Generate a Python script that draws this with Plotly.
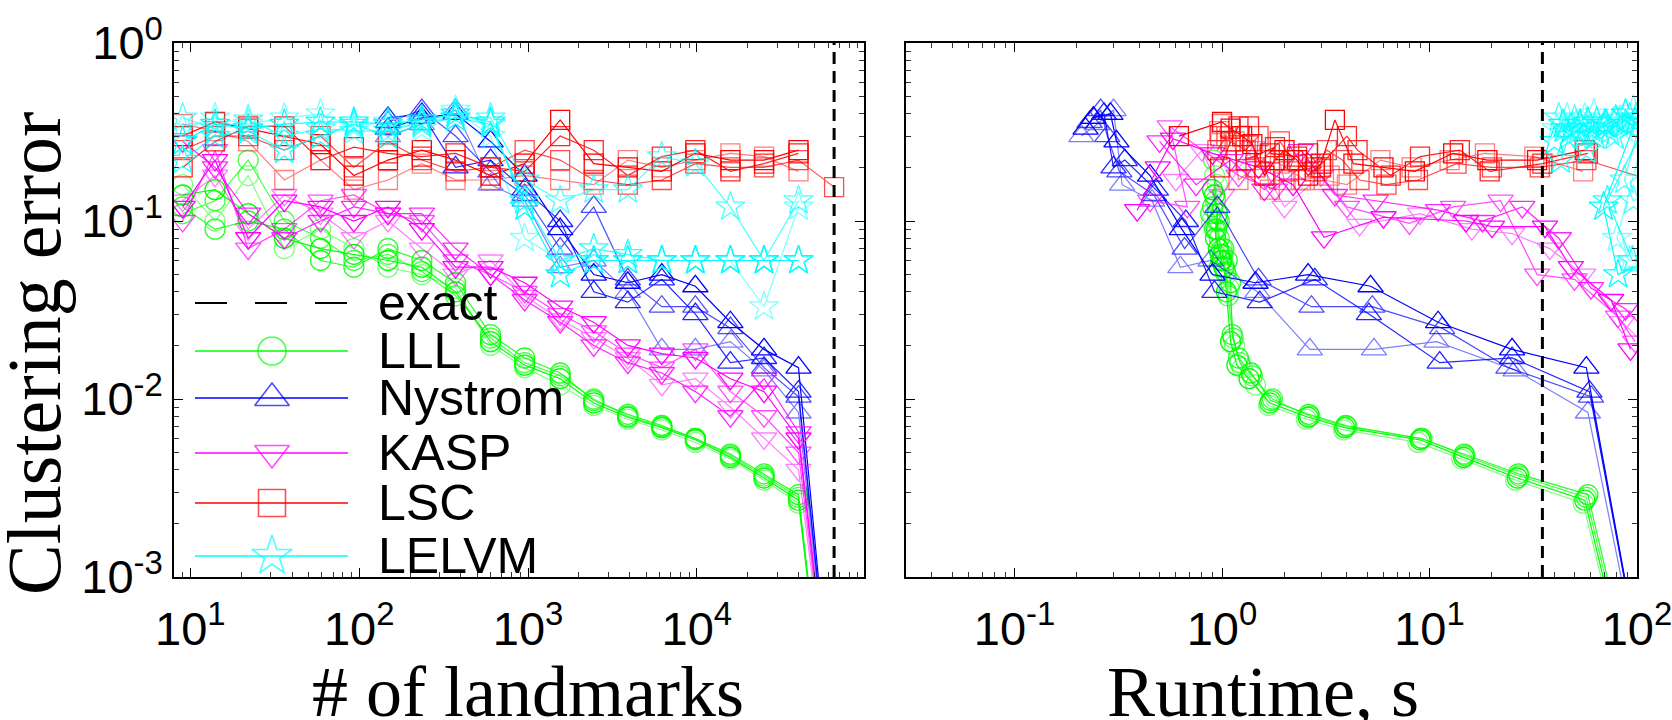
import plotly.graph_objects as go

# ---------------- data ----------------
landmarks = [9, 14, 22, 36, 59, 93, 148, 235, 372, 600, 955, 1550, 2450,
             3900, 6200, 9800, 15800, 25000, 40000, 65000]
exact_landmarks = 65000
exact_runtime = 35
err_span = [1e-3, 1]

methods = ["LLL", "Nystrom", "KASP", "LSC", "LELVM"]

# LLL: 19 landmark settings + final point (L = N, error below axis floor)
lll_final_L = 60000
lll_err = [
    [0.14, 0.15, 0.11, 0.08, 0.07, 0.065, 0.06, 0.055, 0.04, 0.021, 0.0155, 0.013, 0.0095, 0.0079, 0.0069, 0.0059, 0.0047, 0.0036, 0.0027, 1e-4],
    [0.11, 0.13, 0.22, 0.10, 0.08, 0.06, 0.065, 0.052, 0.038, 0.022, 0.016, 0.0135, 0.010, 0.008, 0.007, 0.006, 0.0048, 0.0037, 0.0028, 1e-4],
    [0.16, 0.10, 0.18, 0.07, 0.09, 0.07, 0.055, 0.05, 0.042, 0.020, 0.015, 0.012, 0.0092, 0.0077, 0.0067, 0.0057, 0.0046, 0.0035, 0.0026, 1e-4],
    [0.12, 0.09, 0.10, 0.09, 0.06, 0.055, 0.07, 0.06, 0.045, 0.023, 0.017, 0.014, 0.0098, 0.0082, 0.0071, 0.006, 0.0049, 0.0038, 0.0029, 1e-4],
]
lll_time = [
    [0.92, 0.90, 0.95, 0.93, 0.96, 0.98, 1.00, 1.02, 1.05, 1.10, 1.18, 1.35, 1.70, 2.6, 3.9, 9.0, 14.6, 26.5, 56, 110],
    [0.88, 0.93, 0.91, 0.95, 0.97, 0.99, 1.01, 1.04, 1.07, 1.13, 1.22, 1.40, 1.75, 2.65, 4.0, 9.2, 14.8, 27, 57, 112],
    [0.95, 0.89, 0.92, 0.96, 0.94, 1.00, 1.03, 1.05, 1.08, 1.15, 1.25, 1.45, 1.68, 2.55, 3.85, 8.8, 14.3, 26, 55, 108],
    [0.90, 0.94, 0.97, 0.92, 0.99, 0.97, 1.02, 1.06, 1.10, 1.12, 1.20, 1.38, 1.72, 2.62, 3.95, 9.1, 14.7, 26.8, 58, 114],
]

# Nystrom: landmark settings 7..19 + final point
nys_first = 6
nys_final_L = 66000
nys_err = [
    [0.33, 0.38, 0.40, 0.28, 0.18, 0.09, 0.05, 0.045, 0.05, 0.043, 0.027, 0.019, 0.015, 1e-4],
    [0.36, 0.42, 0.30, 0.19, 0.14, 0.07, 0.12, 0.047, 0.033, 0.033, 0.025, 0.015, 0.0103, 1e-4],
    [0.30, 0.35, 0.42, 0.16, 0.13, 0.055, 0.06, 0.04, 0.019, 0.019, 0.021, 0.0145, 0.0084, 1e-4],
    [0.38, 0.40, 0.20, 0.22, 0.15, 0.10, 0.04, 0.035, 0.047, 0.03, 0.016, 0.017, 0.011, 1e-4],
]
nys_time = [
    [0.22, 0.24, 0.29, 0.31, 0.45, 0.64, 0.90, 1.45, 2.6, 5.2, 11, 25, 57, 125],
    [0.23, 0.26, 0.28, 0.32, 0.47, 0.66, 0.95, 1.5, 2.7, 5.3, 11.5, 24, 60, 125],
    [0.21, 0.25, 0.30, 0.33, 0.46, 0.63, 0.88, 1.48, 2.65, 5.4, 10.8, 26, 58, 125],
    [0.24, 0.27, 0.30, 0.34, 0.48, 0.67, 0.92, 1.52, 2.8, 5.1, 11.2, 25, 59, 125],
]

# KASP
kasp_final_L = 66000
kasp_err = [
    [0.12, 0.22, 0.08, 0.13, 0.12, 0.10, 0.12, 0.09, 0.055, 0.055, 0.045, 0.033, 0.027, 0.02, 0.018, 0.017, 0.013, 0.011, 0.006, 1e-4],
    [0.10, 0.25, 0.07, 0.09, 0.13, 0.14, 0.11, 0.10, 0.06, 0.05, 0.04, 0.03, 0.024, 0.018, 0.015, 0.019, 0.011, 0.008, 0.005, 1e-4],
    [0.13, 0.18, 0.09, 0.14, 0.11, 0.08, 0.10, 0.07, 0.05, 0.06, 0.038, 0.028, 0.022, 0.017, 0.012, 0.013, 0.009, 0.006, 0.004, 1e-4],
    [0.28, 0.20, 0.11, 0.08, 0.10, 0.12, 0.11, 0.11, 0.07, 0.05, 0.036, 0.027, 0.02, 0.016, 0.014, 0.011, 0.008, 0.013, 0.0065, 1e-4],
]
kasp_rt_time = [
    [0.39, 0.49, 0.58, 0.9, 1.5, 2.2, 3.1, 6, 15, 20, 36, 48, 75, 93],
    [0.45, 0.68, 0.56, 1.2, 1.8, 2.6, 4.0, 8, 13, 22, 33, 50, 81, 98],
    [0.6, 0.8, 1.0, 1.4, 2.0, 3.0, 4.6, 9, 16, 25, 38, 55, 85, 120],
    [0.5, 0.75, 1.1, 1.6, 2.4, 3.5, 5.5, 11, 18, 28, 42, 60, 88, 130],
]
kasp_rt_err = [
    [0.115, 0.2, 0.29, 0.24, 0.2, 0.16, 0.081, 0.105, 0.10, 0.093, 0.093, 0.055, 0.036, 0.019],
    [0.13, 0.12, 0.34, 0.18, 0.15, 0.22, 0.12, 0.097, 0.12, 0.13, 0.05, 0.047, 0.029, 0.021],
    [0.17, 0.25, 0.14, 0.26, 0.12, 0.18, 0.095, 0.11, 0.09, 0.085, 0.07, 0.05, 0.027, 0.018],
    [0.28, 0.16, 0.22, 0.15, 0.25, 0.14, 0.13, 0.115, 0.10, 0.12, 0.08, 0.042, 0.032, 0.02],
]

# LSC
lsc_err = [
    [0.30, 0.36, 0.33, 0.30, 0.27, 0.18, 0.22, 0.25, 0.22, 0.18, 0.21, 0.37, 0.21, 0.20, 0.19, 0.24, 0.22, 0.22, 0.25],
    [0.25, 0.30, 0.30, 0.25, 0.30, 0.20, 0.28, 0.22, 0.19, 0.20, 0.25, 0.22, 0.17, 0.16, 0.17, 0.21, 0.20, 0.20, 0.22, 0.155],
    [0.35, 0.32, 0.28, 0.17, 0.22, 0.15, 0.17, 0.21, 0.17, 0.17, 0.18, 0.17, 0.16, 0.22, 0.20, 0.22, 0.24, 0.23, 0.19],
    [0.20, 0.28, 0.34, 0.34, 0.22, 0.26, 0.24, 0.23, 0.24, 0.20, 0.19, 0.30, 0.25, 0.18, 0.23, 0.25, 0.19, 0.21, 0.24],
]
lsc_time = [
    [0.62, 1.0, 1.1, 1.25, 1.4, 1.6, 1.8, 2.0, 2.3, 2.6, 3.0, 3.5, 4.3, 6.0, 8.5, 13, 19, 33, 56],
    [0.95, 1.05, 0.98, 1.3, 1.5, 1.45, 1.9, 2.2, 2.1, 2.8, 3.2, 3.8, 4.6, 6.2, 8.8, 13.5, 20, 34, 57, 150],
    [1.0, 0.97, 1.15, 1.2, 1.6, 1.7, 2.0, 1.9, 2.5, 2.4, 3.3, 3.1, 4.0, 5.8, 8.2, 12.5, 18.5, 32, 55],
    [0.98, 1.1, 1.2, 1.35, 1.3, 1.8, 1.7, 2.3, 2.6, 3.0, 2.8, 4.0, 4.5, 6.5, 9.0, 14, 19.5, 35, 58],
]

# LELVM
lelvm_err = [
    [0.28, 0.35, 0.33, 0.35, 0.36, 0.36, 0.35, 0.37, 0.40, 0.36, 0.12, 0.05, 0.06, 0.06, 0.06, 0.06, 0.06, 0.06, 0.06],
    [0.38, 0.33, 0.37, 0.30, 0.33, 0.32, 0.32, 0.36, 0.38, 0.38, 0.17, 0.13, 0.15, 0.15, 0.23, 0.21, 0.12, 0.06, 0.13],
    [0.33, 0.38, 0.35, 0.38, 0.40, 0.34, 0.36, 0.33, 0.42, 0.30, 0.08, 0.06, 0.06, 0.06, 0.06, 0.06, 0.06, 0.033, 0.12],
    [0.22, 0.30, 0.32, 0.25, 0.30, 0.35, 0.30, 0.35, 0.38, 0.35, 0.13, 0.06, 0.07, 0.065, 0.06, 0.06, 0.06, 0.06, 0.06],
]
lelvm_time = [
    [40, 44, 48, 53, 58, 64, 71, 79, 88, 98, 69, 81, 115],
    [42, 45, 50, 55, 60, 66, 74, 82, 92, 105, 87, 96, 130],
    [41, 46, 51, 56, 62, 69, 77, 86, 96, 108, 80, 92, 125],
    [43, 47, 52, 57, 63, 70, 78, 88, 99, 110, 72, 95, 135],
]

x_tick_vals_L = [10, 100, 1000, 10000]
x_tick_text_L = ["10<sup>1</sup>", "10<sup>2</sup>", "10<sup>3</sup>", "10<sup>4</sup>"]
x_tick_vals_R = [0.1, 1, 10, 100]
x_tick_text_R = ["10<sup>-1</sup>", "10<sup>0</sup>", "10<sup>1</sup>", "10<sup>2</sup>"]
y_tick_vals = [1e-3, 1e-2, 1e-1, 1]
y_tick_text = ["10<sup>-3</sup>", "10<sup>-2</sup>", "10<sup>-1</sup>", "10<sup>0</sup>"]

# ---------------- styles ----------------
colors = {"LLL": "#00ff00", "Nystrom": "#0000ff", "KASP": "#ff00ff",
          "LSC": "#ff0000", "LELVM": "#00ffff"}
symbols = {"LLL": "circle-open", "Nystrom": "triangle-up-open",
           "KASP": "triangle-down-open", "LSC": "square-open", "LELVM": "star-open"}
sizes = {"LLL": 20, "Nystrom": 22, "KASP": 22, "LSC": 19, "LELVM": 22}
run_opacity = [1.0, 0.7, 0.5, 0.85]

fig = go.Figure()


def add_run(x, y, m, i, xa, ya):
    fig.add_trace(go.Scatter(
        x=x, y=y, mode="lines+markers", xaxis=xa, yaxis=ya,
        line=dict(color=colors[m], width=1.2),
        marker=dict(symbol=symbols[m], size=sizes[m], color=colors[m],
                    line=dict(width=1.3, color=colors[m])),
        opacity=run_opacity[i], showlegend=False, hoverinfo="skip"))


# left panel: error vs landmarks
for i in range(4):
    add_run(landmarks[:19] + [lll_final_L], lll_err[i], "LLL", i, "x", "y")
for i in range(4):
    add_run(landmarks[nys_first:19] + [nys_final_L], nys_err[i], "Nystrom", i, "x", "y")
for i in range(4):
    add_run(landmarks[:19] + [kasp_final_L], kasp_err[i], "KASP", i, "x", "y")
for i in range(4):
    add_run(landmarks[:len(lsc_err[i])], lsc_err[i], "LSC", i, "x", "y")
for i in range(4):
    add_run(landmarks[:len(lelvm_err[i])], lelvm_err[i], "LELVM", i, "x", "y")

# right panel: error vs runtime
for i in range(4):
    add_run(lll_time[i], lll_err[i], "LLL", i, "x2", "y2")
for i in range(4):
    add_run(nys_time[i], nys_err[i], "Nystrom", i, "x2", "y2")
for i in range(4):
    add_run(kasp_rt_time[i], kasp_rt_err[i], "KASP", i, "x2", "y2")
for i in range(4):
    add_run(lsc_time[i], lsc_err[i], "LSC", i, "x2", "y2")
for i in range(4):
    add_run(lelvm_time[i], lelvm_err[i][:len(lelvm_time[i])], "LELVM", i, "x2", "y2")

# exact reference lines
fig.add_trace(go.Scatter(x=[exact_landmarks, exact_landmarks], y=err_span, mode="lines",
                         xaxis="x", yaxis="y", line=dict(color="black", width=3, dash="12px,7px"),
                         showlegend=False, hoverinfo="skip"))
fig.add_trace(go.Scatter(x=[exact_runtime, exact_runtime], y=err_span, mode="lines",
                         xaxis="x2", yaxis="y2", line=dict(color="black", width=3, dash="12px,7px"),
                         showlegend=False, hoverinfo="skip"))

# ---------------- manual legend (overlay axes x3/y3, unit coordinates) ----------------
W, H = 1672, 720
PL, PR, PT, PB = 174, 864, 43, 577
leg_x0, leg_x1, leg_xm, leg_text_x = 195, 348, 272, 376
leg_rows_px = [303, 351, 398, 453, 503, 556]


def ux(px):
    return (px - PL) / (PR - PL)


def uy(py):
    return (PB - py) / (PB - PT)


fig.add_trace(go.Scatter(x=[ux(leg_x0), ux(leg_x1)], y=[uy(leg_rows_px[0])] * 2, mode="lines",
                         xaxis="x3", yaxis="y3", line=dict(color="black", width=2, dash="32px,28px"),
                         showlegend=False, hoverinfo="skip"))
for k, m in enumerate(methods):
    yy = uy(leg_rows_px[k + 1])
    fig.add_trace(go.Scatter(
        x=[ux(leg_x0), ux(leg_xm), ux(leg_x1)], y=[yy, yy, yy], mode="lines+markers",
        xaxis="x3", yaxis="y3", line=dict(color=colors[m], width=1.5),
        marker=dict(symbol=symbols[m], size=[0, sizes[m] + 8, 0], color=colors[m],
                    line=dict(width=1.6, color=colors[m])),
        showlegend=False, hoverinfo="skip"))

annotations = []
for k, name in enumerate(["exact"] + methods):
    annotations.append(dict(x=leg_text_x / W, y=1 - leg_rows_px[k] / H, xref="paper", yref="paper",
                            text=name, showarrow=False, xanchor="left", yanchor="middle",
                            font=dict(family="Liberation Sans, Arial", size=50, color="black")))

serif = "Liberation Serif, Times New Roman, serif"
annotations.append(dict(x=34 / W, y=1 - 354 / H, xref="paper", yref="paper", text="Clustering error",
                        textangle=-90, showarrow=False, xanchor="center", yanchor="middle",
                        font=dict(family=serif, size=76, color="black")))
annotations.append(dict(x=528 / W, y=1 - 692 / H, xref="paper", yref="paper", text="# of landmarks",
                        showarrow=False, xanchor="center", yanchor="middle",
                        font=dict(family=serif, size=72, color="black")))
annotations.append(dict(x=1263 / W, y=1 - 692 / H, xref="paper", yref="paper", text="Runtime, s",
                        showarrow=False, xanchor="center", yanchor="middle",
                        font=dict(family=serif, size=72, color="black")))

tickfont = dict(family="Liberation Sans, Arial", size=47, color="black")
common = dict(type="log", showgrid=False, zeroline=False, showline=True, linecolor="black",
              linewidth=1.5, mirror="allticks", ticks="inside", ticklen=9, tickwidth=1.3,
              tickcolor="black", tickfont=tickfont, automargin=False, ticklabeloverflow="allow",
              minor=dict(ticks="inside", ticklen=5, tickwidth=1, tickcolor="#333", dtick="D1",
                         showgrid=False))

dom_xL = [PL / W, PR / W]
dom_xR = [906 / W, 1637 / W]
dom_y = [1 - PB / H, 1 - PT / H]

fig.update_layout(
    width=W, height=H, margin=dict(l=0, r=0, t=0, b=0),
    paper_bgcolor="white", plot_bgcolor="white", showlegend=False,
    xaxis=dict(domain=dom_xL, anchor="y", range=[0.903, 4.99], tickmode="array",
               tickvals=x_tick_vals_L, ticktext=x_tick_text_L, ticklabelstandoff=10, **common),
    yaxis=dict(domain=dom_y, anchor="x", range=[-3, 0], tickmode="array",
               tickvals=y_tick_vals, ticktext=y_tick_text, ticklabelstandoff=0, **common),
    xaxis2=dict(domain=dom_xR, anchor="y2", range=[-1.523, 2], tickmode="array",
                tickvals=x_tick_vals_R, ticktext=x_tick_text_R, ticklabelstandoff=10, **common),
    yaxis2=dict(domain=dom_y, anchor="x2", range=[-3, 0], tickmode="array",
                tickvals=y_tick_vals, ticktext=y_tick_text, showticklabels=False, **common),
    xaxis3=dict(domain=dom_xL, anchor="y3", range=[0, 1], visible=False, overlaying="x"),
    yaxis3=dict(domain=dom_y, anchor="x3", range=[0, 1], visible=False, overlaying="y"),
    annotations=annotations,
)

fig.write_html("out.html")
